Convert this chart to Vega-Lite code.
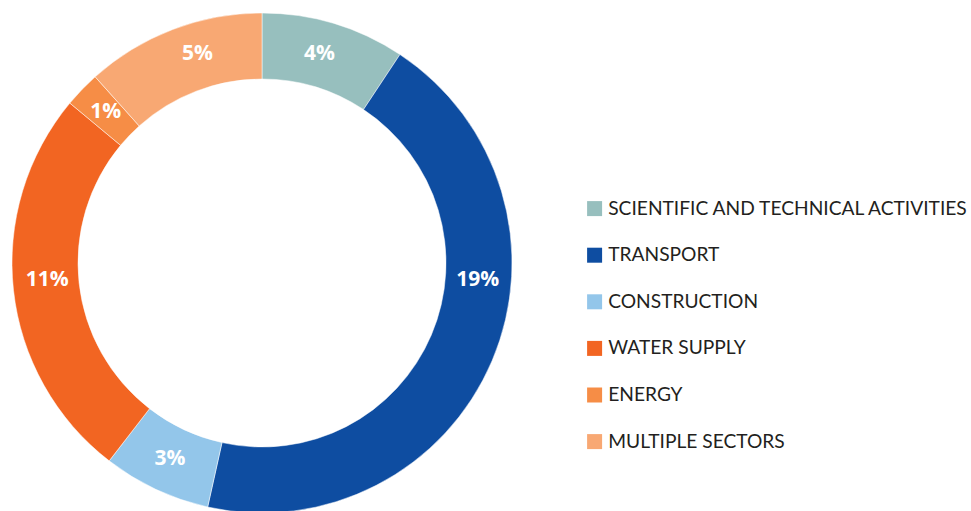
{
  "$schema": "https://vega.github.io/schema/vega-lite/v6.json",
  "width": 524,
  "height": 526,
  "autosize": "none",
  "padding": {"left": 0, "top": 0, "right": 447, "bottom": 0},
  "background": "white",
  "config": {"view": {"stroke": null}},
  "data": {
    "values": [
      {"sector": "SCIENTIFIC AND TECHNICAL ACTIVITIES", "value": 4, "label": "4%", "idx": 1},
      {"sector": "TRANSPORT", "value": 19, "label": "19%", "idx": 2},
      {"sector": "CONSTRUCTION", "value": 3, "label": "3%", "idx": 3},
      {"sector": "WATER SUPPLY", "value": 11, "label": "11%", "idx": 4},
      {"sector": "ENERGY", "value": 1, "label": "1%", "idx": 5},
      {"sector": "MULTIPLE SECTORS", "value": 5, "label": "5%", "idx": 6}
    ]
  },
  "encoding": {
    "theta": {"field": "value", "type": "quantitative", "stack": true},
    "order": {"field": "idx", "type": "quantitative"}
  },
  "layer": [
    {
      "mark": {"type": "arc", "outerRadius": 250, "innerRadius": 184, "stroke": "white", "strokeWidth": 0.5},
      "encoding": {
        "color": {
          "field": "sector",
          "type": "nominal",
          "sort": null,
          "scale": {
            "domain": ["SCIENTIFIC AND TECHNICAL ACTIVITIES", "TRANSPORT", "CONSTRUCTION", "WATER SUPPLY", "ENERGY", "MULTIPLE SECTORS"],
            "range": ["#97BFBE", "#0E4DA1", "#93C6EA", "#F26522", "#F68D46", "#F8A873"]
          },
          "legend": {
            "title": null,
            "orient": "none",
            "legendX": 585,
            "legendY": 199,
            "symbolType": "square",
            "symbolSize": 225,
            "symbolStrokeWidth": 0,
            "symbolOpacity": 1,
            "labelFont": "Lato",
            "labelFontSize": 19.2,
            "labelColor": "#231F20",
            "labelOffset": 4,
            "rowPadding": 26.6,
            "labelLimit": 500
          }
        }
      }
    },
    {
      "mark": {"type": "text", "radius": 217, "font": "Open Sans", "fontWeight": "bold", "fontSize": 21, "fill": "white", "align": "center", "baseline": "middle"},
      "encoding": {
        "text": {"field": "label", "type": "nominal"},
        "opacity": {"condition": {"test": "datum.idx == 3 || datum.idx == 5", "value": 1}, "value": 0}
      }
    },
    {
      "mark": {"type": "text", "radius": 217, "dx": -5, "dy": -1, "font": "Open Sans", "fontWeight": "bold", "fontSize": 21, "fill": "white", "align": "center", "baseline": "middle"},
      "encoding": {
        "text": {"field": "label", "type": "nominal"},
        "opacity": {"condition": {"test": "datum.idx == 1", "value": 1}, "value": 0}
      }
    },
    {
      "mark": {"type": "text", "radius": 217, "dx": 16, "dy": -68, "font": "Open Sans", "fontWeight": "bold", "fontSize": 21, "fill": "white", "align": "center", "baseline": "middle"},
      "encoding": {
        "text": {"field": "label", "type": "nominal"},
        "opacity": {"condition": {"test": "datum.idx == 2", "value": 1}, "value": 0}
      }
    },
    {
      "mark": {"type": "text", "radius": 217, "dx": 1, "dy": -7, "font": "Open Sans", "fontWeight": "bold", "fontSize": 21, "fill": "white", "align": "center", "baseline": "middle"},
      "encoding": {
        "text": {"field": "label", "type": "nominal"},
        "opacity": {"condition": {"test": "datum.idx == 4", "value": 1}, "value": 0}
      }
    },
    {
      "mark": {"type": "text", "radius": 217, "dx": 13, "dy": -6, "font": "Open Sans", "fontWeight": "bold", "fontSize": 21, "fill": "white", "align": "center", "baseline": "middle"},
      "encoding": {
        "text": {"field": "label", "type": "nominal"},
        "opacity": {"condition": {"test": "datum.idx == 6", "value": 1}, "value": 0}
      }
    }
  ]
}
